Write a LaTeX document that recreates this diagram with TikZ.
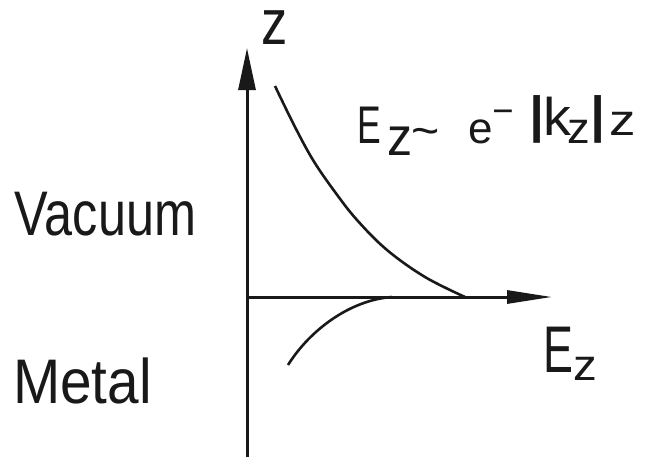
\documentclass[tikz,border=0pt]{standalone}
\usepackage{fontspec}
\setmainfont{Liberation Sans}
\usetikzlibrary{arrows.meta}
\newcommand\tx[3]{\scalebox{#1}[1]{\fontsize{#2}{#2}\selectfont #3}}
\newcommand\pc[3]{\raisebox{#2}{\makebox[#1][l]{#3}}}
\begin{document}
\begin{tikzpicture}[x=1pt,y=-1pt,
  lbl/.style={anchor=base west,inner sep=0pt,outer sep=0pt,text=black!90},
  ax/.style={line width=3pt,black!90},
  crv/.style={line width=2.6pt,black!90}]
\useasboundingbox (0,0) rectangle (646,461);
% axes
\coordinate (Obot) at (247,457);
\coordinate (O) at (247,297);
\coordinate (Ztip) at (247,48);
\coordinate (Etip) at (552,297);
\draw[ax,-{Triangle[length=42pt,width=17pt]}] (Obot) -- (Ztip);
\draw[ax,-{Triangle[length=45pt,width=13pt]}] (O) -- (Etip);
% curves
\draw[crv] plot[smooth,tension=0.6] coordinates {(275,86) (294,125) (313,160) (335,192) (357,220) (387,250) (425,277) (465,297)};
\draw[crv] (288,365) .. controls (310,330) and (350,300) .. (392,297);
% axis labels
\node[lbl] (zl) at (261,44) {\tx{0.82}{64}{z}};
\node[lbl] (Ezl) at (543,372) {\pc{30pt}{0pt}{\tx{0.68}{66}{E}}\pc{22pt}{-8pt}{\tx{1.08}{44}{z}}};
% region labels
\node[lbl] (vac) at (15,235) {\tx{0.8}{63}{Vacuum}};
\node[lbl] (met) at (13,403) {\tx{0.9}{63}{Metal}};
% formula
\node[lbl] (form) at (357,143) {%
  \pc{30pt}{0pt}{\tx{0.67}{53}{E}}%
  \pc{24pt}{-12pt}{\tx{0.93}{54}{z}}%
  \pc{57pt}{-3pt}{\tx{1.05}{46}{\char"7E}}%
  \pc{26pt}{0pt}{\tx{1.0}{44}{e}}%
  \pc{32pt}{22pt}{\tx{0.8}{40}{–}}%
  \pc{17pt}{11pt}{\tx{1.6}{51}{|}}%
  \pc{24pt}{8pt}{\tx{1.05}{53}{k}}%
  \pc{20pt}{0pt}{\tx{1.03}{44}{z}}%
  \pc{22pt}{11pt}{\tx{1.6}{51}{|}}%
  \pc{26pt}{8pt}{\tx{1.2}{44}{z}}};
\end{tikzpicture}
\end{document}
